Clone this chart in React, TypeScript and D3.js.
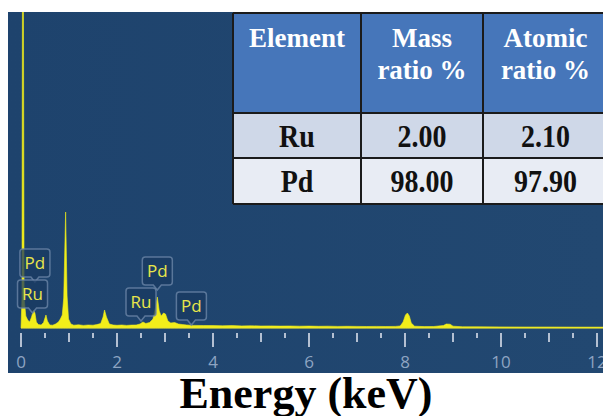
import React from 'react';
import * as d3 from 'd3';

// EDS spectrum outline: [energy keV, counts]
const spectrum: [number, number][] = [
  [0.0, 0], [0.02, 300], [0.03, 3400], [0.05, 3400], [0.065, 300], [0.1, 120], [0.14, 80],
  [0.18, 60], [0.22, 110], [0.26, 180], [0.29, 150], [0.32, 60], [0.36, 35], [0.42, 30],
  [0.47, 55], [0.52, 130], [0.55, 70], [0.6, 30], [0.66, 28], [0.72, 40], [0.78, 60],
  [0.82, 90], [0.86, 130], [0.89, 300], [0.93, 1160], [0.96, 320], [0.99, 90], [1.04, 40],
  [1.1, 28], [1.2, 32], [1.3, 26], [1.4, 30], [1.5, 28], [1.58, 34], [1.66, 45], [1.71, 110],
  [1.74, 180], [1.78, 110], [1.84, 40], [1.92, 30], [2.0, 27], [2.1, 30], [2.2, 26],
  [2.3, 29], [2.4, 30], [2.48, 40], [2.54, 60], [2.6, 45], [2.68, 55], [2.75, 90],
  [2.8, 200], [2.84, 310], [2.88, 170], [2.92, 120], [2.97, 150], [3.01, 140], [3.06, 70],
  [3.12, 50], [3.2, 55], [3.28, 40], [3.36, 35], [3.45, 30], [3.6, 26], [3.8, 25],
  [4.0, 24], [4.2, 22], [4.4, 24], [4.6, 21], [4.8, 22], [5.0, 20], [5.2, 21], [5.4, 19],
  [5.6, 20], [5.8, 18], [6.0, 19], [6.2, 17], [6.4, 18], [6.6, 16], [6.8, 17], [7.0, 16],
  [7.2, 15], [7.4, 16], [7.6, 15], [7.8, 16], [7.9, 20], [7.96, 60], [8.01, 130],
  [8.05, 150], [8.09, 120], [8.13, 50], [8.2, 18], [8.4, 14], [8.6, 15], [8.8, 25],
  [8.86, 40], [8.94, 38], [9.0, 18], [9.2, 12], [9.5, 12], [10.0, 11], [10.5, 10],
  [11.0, 10], [11.5, 9], [12.0, 9], [12.2, 9],
];

// peak markers: element, energy (keV), counts where the marker points
const peakElements = ['Pd', 'Ru', 'Pd', 'Ru', 'Pd'];
const peakEnergies = [0.29, 0.24, 2.84, 2.5, 3.55];
const peakAnchors = [460, 150, 380, 70, 30];

const tickLabels = ['0', '2', '4', '6', '8', '10', '12'];

// composition table
const tableHeader = [['Element'], ['Mass', 'ratio %'], ['Atomic', 'ratio %']];
const elements = ['Ru', 'Pd'];
const massRatio = ['2.00', '98.00'];
const atomicRatio = ['2.10', '97.90'];

const W = 603;
const H = 416;

export default function App() {
  const x = d3.scaleLinear().domain([0, 12]).range([21, 597]);
  const y = d3.scaleLinear().domain([0, 3200]).range([328, 8]);

  const area = d3.area<[number, number]>()
    .x(d => x(d[0]))
    .y0(y(0))
    .y1(d => y(d[1]));

  const ticks = d3.range(0, 12.25, 0.5);
  const tickLen = (t: number) => (t % 2 === 0 ? 14 : t % 1 === 0 ? 9 : 5);

  const serif = '"Liberation Serif", "Times New Roman", serif';
  const sans = '"Open Sans", "Noto Sans", sans-serif';

  // table geometry
  const colX = [233, 361, 483, 608];
  const rowY = [13, 113, 158, 204];
  const rowFill = ['#cfd8e8', '#e8ecf4'];
  const bodyRows = elements.map((e, i) => [e, massRatio[i], atomicRatio[i]]);

  return (
    <svg width={W} height={H} style={{ position: 'absolute', left: 0, top: 0, background: '#fff' }}>
      <defs>
        <linearGradient id="panelGrad" x1="0" x2="1" y1="0" y2="0">
          <stop offset="0%" stopColor="#1e436d" />
          <stop offset="100%" stopColor="#224871" />
        </linearGradient>
        <linearGradient id="spikeGrad" x1="0" x2="0" y1="0" y2="1">
          <stop offset="0%" stopColor="#8fa24a" />
          <stop offset="45%" stopColor="#c9cf2a" />
          <stop offset="100%" stopColor="#f2ee1a" />
        </linearGradient>
        <clipPath id="panelClip">
          <rect x={8} y={12} width={595} height={361} />
        </clipPath>
      </defs>

      <rect x={8} y={12} width={595} height={361} fill="url(#panelGrad)" />

      <g clipPath="url(#panelClip)">
        <path d={area(spectrum) ?? ''} fill="#f2ee1a" stroke="#f2ee1a" strokeWidth={0.6} />
        <line x1={x(0)} x2={x(12.2)} y1={y(0)} y2={y(0)} stroke="#e8e43a" strokeWidth={1} opacity={0.8} />

        {ticks.map(t => (
          <line key={t} x1={x(t)} x2={x(t)} y1={333} y2={333 + tickLen(t)}
            stroke="#b4c0d2" strokeWidth={2} />
        ))}
        {tickLabels.map(l => (
          <text key={l} x={x(+l)} y={368} textAnchor="middle" fontFamily={sans}
            fontSize={17} fill="#8ea4c2">{l}</text>
        ))}

        {peakElements.map((el, i) => {
          const cx = x(peakEnergies[i]);
          const tip = y(peakAnchors[i]);
          const bw = 30;
          const bh = 28;
          const bottom = tip - 5;
          const top = bottom - bh;
          const path = `M${cx - bw / 2 + 3},${top} H${cx + bw / 2 - 3} Q${cx + bw / 2},${top} ${cx + bw / 2},${top + 3}`
            + ` V${bottom - 3} Q${cx + bw / 2},${bottom} ${cx + bw / 2 - 3},${bottom} H${cx + 4} L${cx},${tip} L${cx - 4},${bottom}`
            + ` H${cx - bw / 2 + 3} Q${cx - bw / 2},${bottom} ${cx - bw / 2},${bottom - 3} V${top + 3} Q${cx - bw / 2},${top} ${cx - bw / 2 + 3},${top} Z`;
          return (
            <g key={i}>
              <path d={path} fill="#1a3a62" fillOpacity={0.75} stroke="#6a84a6" strokeWidth={1.5} strokeOpacity={0.8} />
              <text x={cx} y={top + bh / 2 + 6} textAnchor="middle" fontFamily={sans}
                fontSize={17} fill="#e8e64a">{el}</text>
            </g>
          );
        })}
      </g>

      {/* composition table */}
      <g>
        <rect x={colX[0]} y={rowY[0]} width={colX[3] - colX[0]} height={rowY[1] - rowY[0]} fill="#4676ba" />
        {bodyRows.map((_, r) => (
          <rect key={r} x={colX[0]} y={rowY[r + 1]} width={colX[3] - colX[0]}
            height={rowY[r + 2] - rowY[r + 1]} fill={rowFill[r]} />
        ))}
        {rowY.map((ry, i) => (
          <line key={'h' + i} x1={colX[0]} x2={colX[3]} y1={ry} y2={ry} stroke="#1b1b1b" strokeWidth={2} />
        ))}
        {colX.map((cx, i) => (
          <line key={'v' + i} x1={cx} x2={cx} y1={rowY[0]} y2={rowY[3]} stroke="#1b1b1b" strokeWidth={2} />
        ))}
        {tableHeader.map((lines, c) => (
          <text key={c} x={(colX[c] + colX[c + 1]) / 2} textAnchor="middle" fontFamily={serif}
            fontWeight="bold" fontSize={27} fill="#fff">
            {lines.map((ln, k) => (
              <tspan key={k} x={(colX[c] + colX[c + 1]) / 2} y={47 + k * 32}>{ln}</tspan>
            ))}
          </text>
        ))}
        {bodyRows.map((row, r) =>
          row.map((v, c) => {
            const cx = (colX[c] + colX[c + 1]) / 2;
            const cy = (rowY[r + 1] + rowY[r + 2]) / 2 + 11;
            return (
              <text key={r + '-' + c} transform={`translate(${cx},${cy}) scale(1,1.12)`}
                textAnchor="middle" fontFamily={serif} fontWeight="bold" fontSize={28} fill="#111">{v}</text>
            );
          })
        )}
      </g>

      <text x={306} y={408} textAnchor="middle" fontFamily={serif} fontWeight="bold"
        fontSize={44} fill="#000">Energy (keV)</text>
    </svg>
  );
}
